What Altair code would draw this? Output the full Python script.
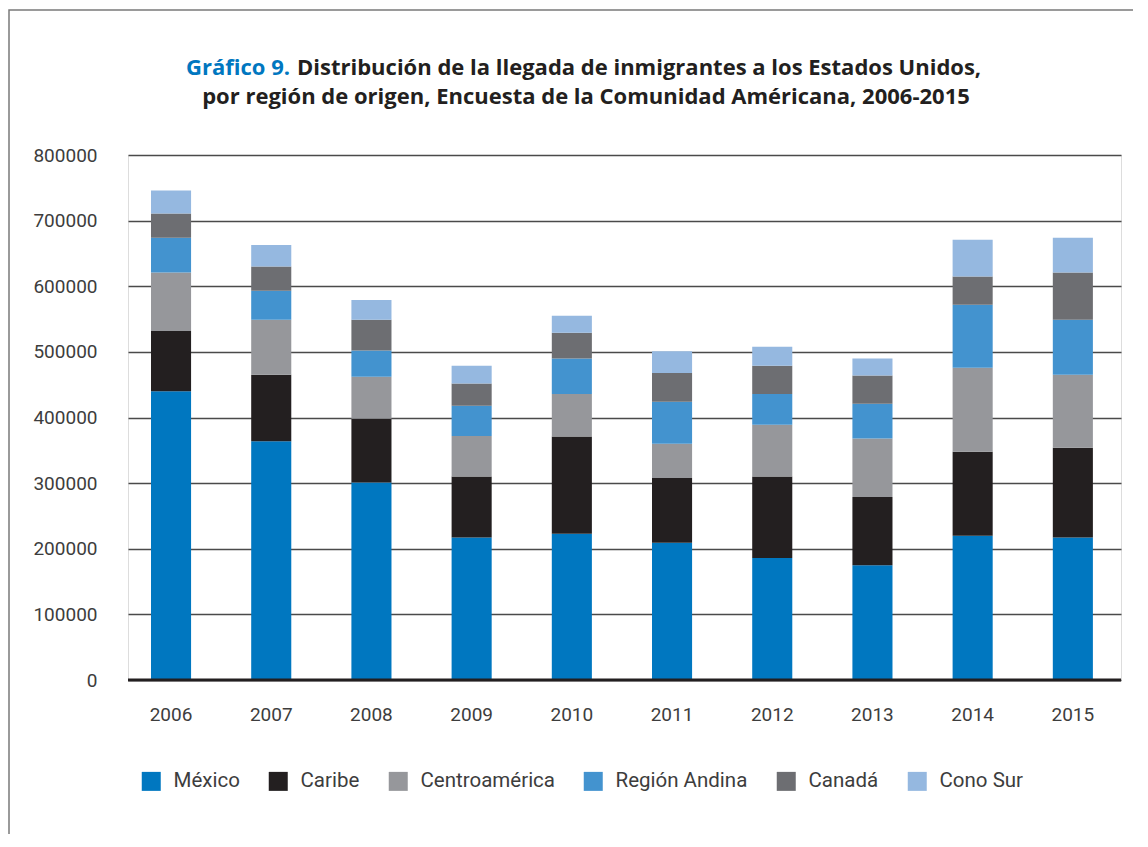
import altair as alt
import pandas as pd

years = ["2006", "2007", "2008", "2009", "2010", "2011", "2012", "2013", "2014", "2015"]
regions = ["México", "Caribe", "Centroamérica", "Región Andina", "Canadá", "Cono Sur"]
colors = ["#0077C0", "#231F20", "#96979B", "#4393CF", "#6D6E72", "#95B8E0"]

mexico = [440000, 364000, 301000, 217000, 223000, 209000, 186000, 175000, 220000, 217000]
caribe = [92000, 101000, 97000, 93000, 148000, 99000, 124000, 104000, 128000, 137000]
centroamerica = [89000, 84000, 64000, 62000, 65000, 52000, 79000, 89000, 128000, 111000]
region_andina = [53000, 44000, 40000, 46000, 54000, 64000, 47000, 53000, 96000, 84000]
canada = [37000, 37000, 47000, 34000, 39000, 44000, 43000, 43000, 43000, 72000]
cono_sur = [35000, 33000, 30000, 27000, 26000, 33000, 29000, 26000, 56000, 53000]

y_ticks = [0, 100000, 200000, 300000, 400000, 500000, 600000, 700000, 800000]

title_lead = "Gráfico 9."
title_line1 = "Distribución de la llegada de inmigrantes a los Estados Unidos,"
title_line2 = "por región de origen, Encuesta de la Comunidad Américana, 2006-2015"

series = [mexico, caribe, centroamerica, region_andina, canada, cono_sur]
rows = []
for i, (reg, vals) in enumerate(zip(regions, series)):
    for yr, v in zip(years, vals):
        rows.append({"year": yr, "region": reg, "value": v, "idx": i})
df = pd.DataFrame(rows)

FONT = "Roboto"
TFONT = "Open Sans"
one = pd.DataFrame({"v": [0]})

bars = alt.Chart(df).mark_bar().encode(
    x=alt.X("year:N", sort=years, title=None,
            scale=alt.Scale(paddingInner=0.6, paddingOuter=0.255, align=0.45),
            axis=alt.Axis(labelAngle=0, ticks=False, domain=False, labelPadding=25,
                          labelFontSize=19, labelColor="#3d3d3d", labelFont=FONT)),
    y=alt.Y("value:Q", stack="zero", title=None,
            scale=alt.Scale(domain=[0, 800000], nice=False),
            axis=alt.Axis(values=y_ticks, format="d", ticks=False, domain=False,
                          labelPadding=31, labelFontSize=19, labelColor="#3d3d3d",
                          labelFont=FONT, gridColor="#4a4a4a", gridWidth=1.3)),
    color=alt.Color("region:N", sort=regions, title=None,
                    scale=alt.Scale(domain=regions, range=colors),
                    legend=alt.Legend(orient="none", legendX=13, legendY=616,
                                      direction="horizontal", columns=6,
                                      symbolType="square", symbolSize=361,
                                      symbolStrokeWidth=0, symbolOpacity=1,
                                      labelFontSize=20.5, labelColor="#3d3d3d",
                                      labelFont=FONT, labelOffset=12,
                                      columnPadding=28, padding=0)),
    order=alt.Order("idx:Q", sort="ascending"),
)

zero = alt.Chart(one).mark_rule(color="#231F20", strokeWidth=3).encode(
    y=alt.Y("v:Q")
)

t_lead = alt.Chart(one).mark_text(
    text=title_lead, font=TFONT, fontSize=22, fontWeight="bold",
    color="#0077C0", align="right", baseline="alphabetic"
).encode(x=alt.value(162), y=alt.value(-80))

t_line1 = alt.Chart(one).mark_text(
    text=title_line1, font=TFONT, fontSize=22, fontWeight="bold",
    color="#231F20", align="left", baseline="alphabetic"
).encode(x=alt.value(169), y=alt.value(-80))

t_line2 = alt.Chart(one).mark_text(
    text=title_line2, font=TFONT, fontSize=22, fontWeight="bold",
    color="#231F20", align="center", baseline="alphabetic"
).encode(x=alt.value(458), y=alt.value(-51))

frame = alt.Chart(one).mark_rect(
    fillOpacity=0, stroke="#7a7a7a", strokeWidth=1.5
).encode(x=alt.value(-119), x2=alt.value(1100), y=alt.value(-145), y2=alt.value(720))

chart = alt.layer(frame, bars, zero, t_lead, t_line1, t_line2).properties(
    width=993, height=525,
    autosize=alt.AutoSizeParams(type="none"),
    padding={"left": 120, "top": 147, "right": 12, "bottom": 154},
).configure_view(stroke=None).configure(background="white")

chart.save("out.html", embed_options={"renderer": "svg", "actions": False})
